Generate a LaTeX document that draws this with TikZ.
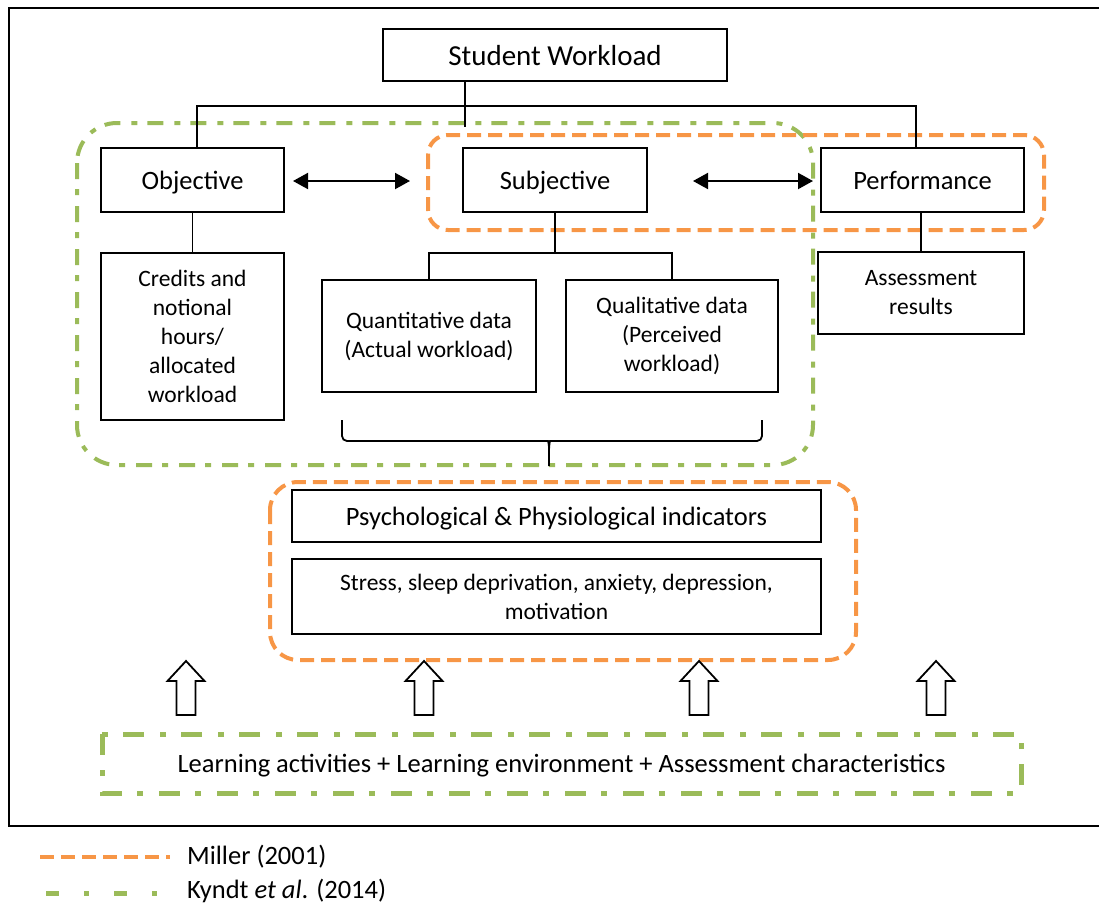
\documentclass[tikz,border=0pt]{standalone}
\usepackage{fontspec}
\setmainfont{Carlito}
\usetikzlibrary{arrows.meta}

\definecolor{millerorange}{RGB}{247,150,70}
\definecolor{kyndtgreen}{RGB}{155,187,89}

\tikzset{
  box/.style={draw, line width=1.8pt, inner sep=0pt, align=center},
  oneline/.style={text depth=0pt},
  bigtext/.style={font=\fontsize{26.5}{30}\selectfont},
  toptext/.style={font=\fontsize{29}{33}\selectfont},
  smalltext/.style={font=\fontsize{23.5}{29}\selectfont},
  link/.style={draw, line width=1.8pt},
  twoway/.style={line width=2pt, {Triangle[length=15pt,width=16pt]}-{Triangle[length=15pt,width=16pt]}},
  millerline/.style={draw=millerorange, line width=4pt, dash pattern=on 14pt off 7pt},
  kyndtline/.style={draw=kyndtgreen, line width=4pt, dash pattern=on 16pt off 10pt on 6pt off 11pt},
  kyndtbold/.style={draw=kyndtgreen, line width=5pt, dash pattern=on 21pt off 15pt on 6pt off 16pt},
  pics/uparrow/.style={code={
    \draw[line width=1.8pt, fill=white] (0,0) -- (-18.5,20) -- (-9.5,20) -- (-9.5,54)
      -- (9.5,54) -- (9.5,20) -- (18.5,20) -- cycle;}}
}

\begin{document}
\begin{tikzpicture}[x=1pt, y=-1pt]
\useasboundingbox (0,0) rectangle (1099,903);

% outer frame (its right side runs past the page edge)
\draw[line width=2pt] (9,8) rectangle (1115,826);

% grouping outlines
\draw[kyndtline, rounded corners=40pt] (77,123) rectangle (813,465);
\draw[millerline, rounded corners=20pt] (428,135) rectangle (1044,230);
\draw[millerline, rounded corners=28pt] (270,482) rectangle (856,660);
\draw[kyndtbold] (102,734) rectangle (1021,793);

% boxes
\node[box, oneline, toptext, minimum width=344pt, minimum height=52pt] (sw) at (555,55) {Student Workload};
\node[box, oneline, bigtext, minimum width=183pt, minimum height=64pt] (obj) at (192.5,180) {Objective};
\node[box, oneline, bigtext, minimum width=184pt, minimum height=64pt] (subj) at (555,180) {Subjective};
\node[box, oneline, bigtext, minimum width=203pt, minimum height=64pt] (perf) at (922.5,180) {Performance};
\node[box, smalltext, minimum width=183pt, minimum height=167pt] (cred) at (192.5,336.5)
  {Credits and\\notional\\hours/\\allocated\\workload};
\node[box, smalltext, minimum width=214pt, minimum height=112pt] (quant) at (429,336)
  {Quantitative data\\(Actual workload)};
\node[box, smalltext, minimum width=212pt, minimum height=112pt] (qual) at (672,336)
  {Qualitative data\\(Perceived\\workload)};
\node[box, smalltext, minimum width=206pt, minimum height=82pt] (assess) at (921,293)
  {Assessment\\results};
\node[box, oneline, bigtext, minimum width=529pt, minimum height=52pt] (psych) at (556.5,516)
  {Psychological \& Physiological indicators};
\node[box, smalltext, minimum width=529pt, minimum height=75pt] (stress) at (556.5,596.5)
  {Stress, sleep deprivation, anxiety, depression,\\motivation};
\node[bigtext, oneline, inner sep=0pt] (learn) at (561.5,763)
  {Learning activities + Learning environment + Assessment characteristics};

% tree links
\coordinate (hub) at (465,106);
\coordinate (stub) at (465,127);
\draw[link] (sw.south -| hub) -- (stub);
\draw[link] ([xshift=4.5pt]obj.north) |- (hub) -| ([xshift=-6.5pt]perf.north);
\draw[link] (obj.south) -- (cred.north);
\coordinate (split) at (555,253);
\draw[link] (subj.south) -- (split);
\draw[link] (quant.north) |- (split) -| (qual.north);
\draw[link] ([xshift=-1.5pt]perf.south) -- (assess.north);

% two-way arrows
\coordinate (a1) at (293,181);
\coordinate (a2) at (410,181);
\coordinate (b1) at (693,181);
\coordinate (b2) at (813,181);
\draw[twoway] (a1) -- (a2);
\draw[twoway] (b1) -- (b2);

% brace under the two data boxes
\coordinate (bl) at (342,420);
\coordinate (br) at (762,420);
\coordinate (btip) at (549,466);
\draw[line width=1.8pt, rounded corners=5pt] (bl) -- (342,441) -- (543,441)
  .. controls (548,441) and (549,444) .. (549,452) -- (btip);
\draw[line width=1.8pt, rounded corners=5pt] (br) -- (762,441) -- (555,441)
  .. controls (550,441) and (549,444) .. (549,452);

% hollow arrows from the learning factors
\pic at (186,661) {uparrow};
\pic at (424,661) {uparrow};
\pic at (699,661) {uparrow};
\pic at (936,661) {uparrow};

% legend
\draw[millerline] (40,857) -- (170,857);
\node[bigtext, anchor=west, inner sep=0pt] (lmiller) at (187,857) {Miller (2001)};
\draw[draw=kyndtgreen, line width=5pt, dash pattern=on 13pt off 25pt on 5pt off 25pt] (46,893) -- (170,893);
\node[bigtext, anchor=west, inner sep=0pt] (lkyndt) at (187,891) {Kyndt \textit{et al}. (2014)};
\end{tikzpicture}
\end{document}
